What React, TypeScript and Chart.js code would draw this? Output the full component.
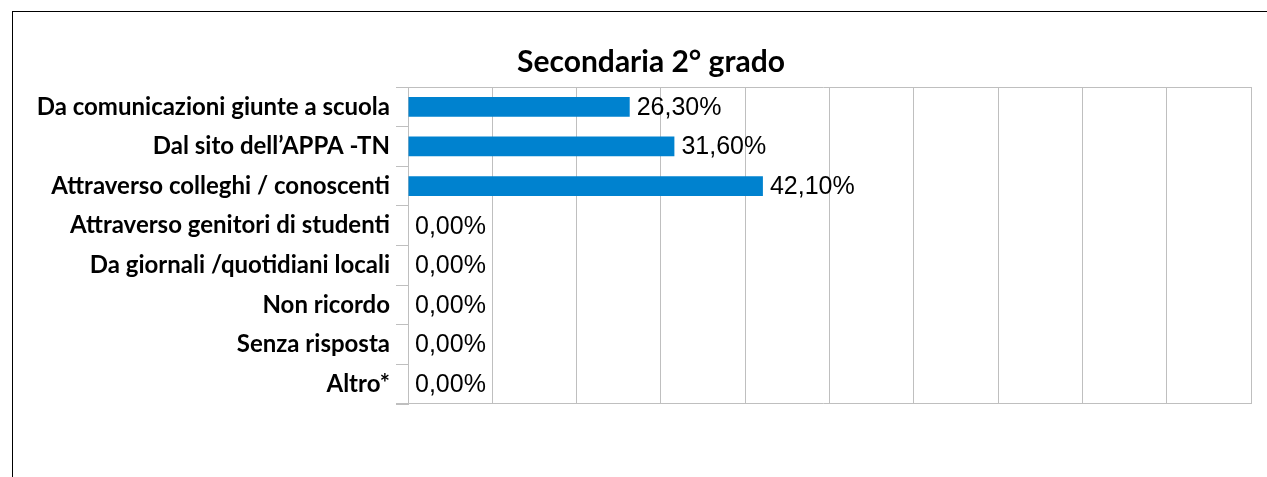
import React, { useEffect, useRef } from "react";
import { Chart, registerables } from "chart.js";

Chart.register(...registerables);

const chartTitle = "Secondaria 2° grado";
const categories = [
  "Da comunicazioni giunte a scuola",
  "Dal sito dell’APPA -TN",
  "Attraverso colleghi / conoscenti",
  "Attraverso genitori di studenti",
  "Da giornali /quotidiani locali",
  "Non ricordo",
  "Senza risposta",
  "Altro*",
];
const values = [26.3, 31.6, 42.1, 0, 0, 0, 0, 0];
const axisMin = 0;
const axisMax = 100;
const axisStep = 10;

const GRID = "#BFBFBF";
const BAR = "rgb(0,130,207)";

const labelPlugin = {
  id: "valueLabels",
  afterDatasetsDraw(chart: any) {
    const ctx = chart.ctx;
    const meta = chart.getDatasetMeta(0);
    ctx.save();
    ctx.font = "25px 'Liberation Sans', Arial, sans-serif";
    ctx.fillStyle = "#000";
    ctx.textAlign = "left";
    ctx.textBaseline = "middle";
    meta.data.forEach((bar: any, i: number) => {
      const v = values[i];
      const txt = v.toFixed(2).replace(".", ",") + "%";
      ctx.fillText(txt, bar.x + 7, bar.y + 1);
    });
    ctx.restore();
  },
};

const framePlugin = {
  id: "frameLines",
  beforeDatasetsDraw(chart: any) {
    const ctx = chart.ctx;
    const a = chart.chartArea;
    ctx.save();
    ctx.strokeStyle = GRID;
    ctx.lineWidth = 1;
    ctx.beginPath();
    ctx.moveTo(a.left - 12, Math.round(a.top) + 0.5);
    ctx.lineTo(a.right, Math.round(a.top) + 0.5);
    ctx.moveTo(a.left - 12, Math.round(a.bottom) - 0.5);
    ctx.lineTo(a.right, Math.round(a.bottom) - 0.5);
    ctx.stroke();
    ctx.restore();
  },
};

const titlePlugin = {
  id: "customTitle",
  afterDraw(chart: any) {
    const ctx = chart.ctx;
    ctx.save();
    ctx.font = "bold 30px Lato, 'Open Sans', sans-serif";
    ctx.fillStyle = "#000";
    ctx.textAlign = "center";
    ctx.textBaseline = "alphabetic";
    ctx.fillText(chartTitle, chart.width / 2, 60);
    ctx.restore();
  },
};

export default function App() {
  const ref = useRef<HTMLCanvasElement>(null);
  useEffect(() => {
    if (!ref.current) return;
    const chart = new Chart(ref.current, {
      type: "bar",
      data: {
        labels: categories,
        datasets: [
          {
            data: values,
            backgroundColor: BAR,
            borderWidth: 0,
            barPercentage: 0.5,
            categoryPercentage: 1,
          },
        ],
      },
      options: {
        indexAxis: "y",
        responsive: false,
        animation: false,
        layout: { padding: { top: 75, bottom: 74, right: 38, left: 0 } },
        plugins: {
          legend: { display: false },
          title: { display: false },
          tooltip: { enabled: false },
        },
        scales: {
          x: {
            min: axisMin,
            max: axisMax,
            ticks: { display: false, stepSize: axisStep },
            grid: { color: GRID, lineWidth: 1, drawTicks: false },
            border: { display: false },
            afterFit: (s: any) => {
              s.height = 0;
            },
          },
          y: {
            grid: {
              offset: true,
              drawOnChartArea: false,
              color: GRID,
              tickColor: GRID,
              tickLength: 12,
              lineWidth: 1,
            },
            border: { display: true, color: GRID, width: 1 },
            ticks: {
              color: "#000",
              padding: 6,
              font: { family: "Lato, 'Open Sans', sans-serif", weight: "bold", size: 24 },
            },
            afterFit: (s: any) => {
              s.width = 395;
            },
          },
        },
      },
      plugins: [framePlugin, labelPlugin, titlePlugin],
    });
    return () => chart.destroy();
  }, []);

  return (
    <div
      style={{
        position: "fixed",
        left: 12,
        top: 11,
        width: 1290,
        height: 480,
        borderTop: "1px solid #000",
        borderLeft: "1px solid #000",
        background: "#fff",
      }}
    >
      <canvas ref={ref} width={1276} height={466} style={{ display: "block" }} />
    </div>
  );
}
